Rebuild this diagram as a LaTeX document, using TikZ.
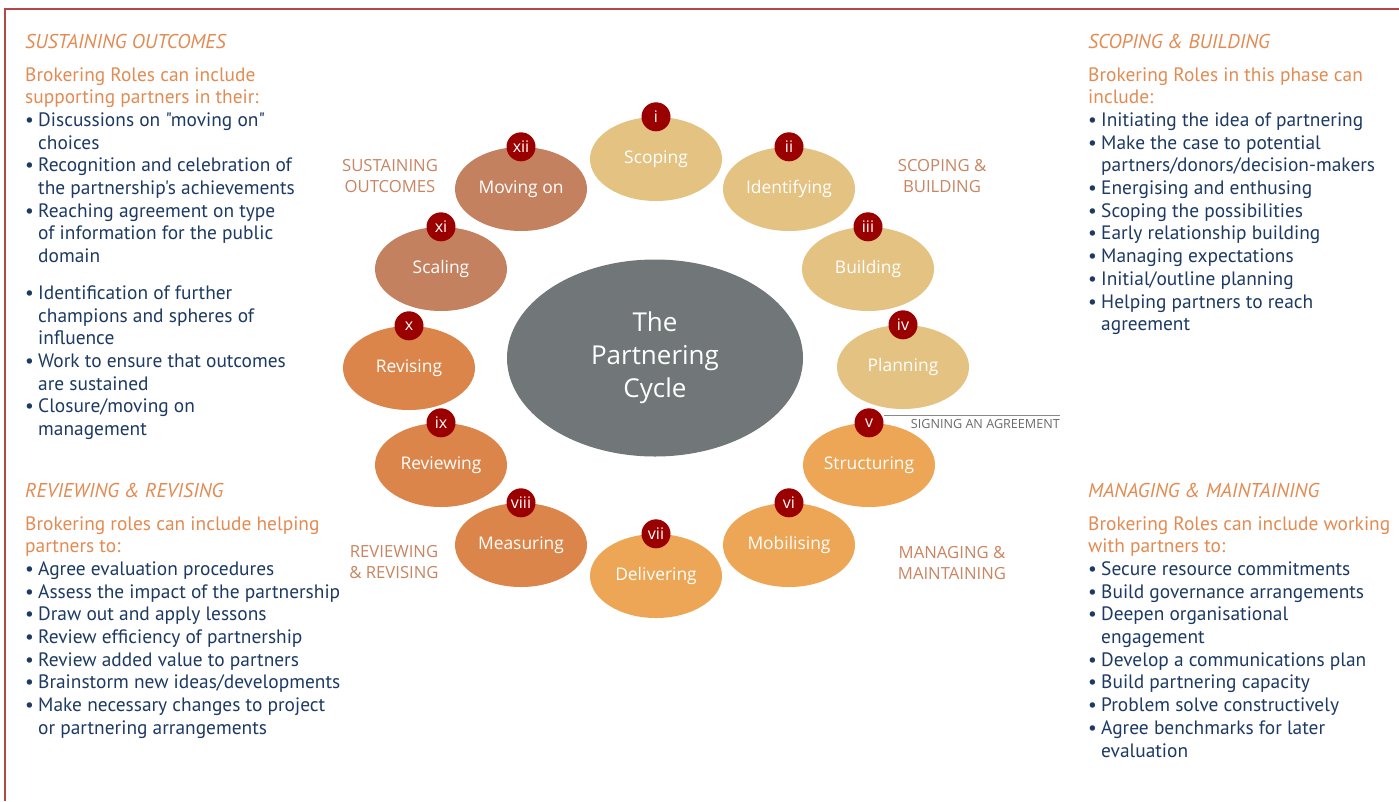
\documentclass[tikz,border=0pt]{standalone}
\usepackage{fontspec}
\setmainfont{PT Sans}[Ligatures=TeXOff]
\newfontfamily\segfont{Open Sans}
\usetikzlibrary{shapes.geometric}
\definecolor{framecol}{HTML}{B3474C}
\definecolor{tan}{HTML}{E4C281}
\definecolor{lorange}{HTML}{EDA556}
\definecolor{morange}{HTML}{DC854A}
\definecolor{brownish}{HTML}{C48160}
\definecolor{centergray}{HTML}{717679}
\definecolor{badgered}{HTML}{9A0000}
\definecolor{navy}{HTML}{1C3A63}
\definecolor{headorange}{HTML}{E38B52}
\definecolor{phasecol}{HTML}{C98562}
\definecolor{signgray}{HTML}{6B6B6B}
\newcommand{\bl}{\makebox[13pt][l]{\textbullet}}
\newcommand{\ind}{\hspace*{13pt}}
\tikzset{
  stage/.style={ellipse, minimum width=132pt, minimum height=84pt, inner sep=0pt,
     text=white, font=\segfont\fontsize{17.4}{20}\selectfont},
  badge/.style={circle, fill=badgered, minimum size=29pt, inner sep=0pt,
     text=white, font=\segfont\fontsize{16}{18}\selectfont},
  phase/.style={align=center, text=phasecol, inner sep=0pt,
     font=\segfont\fontsize{16.7}{21}\selectfont},
  panelhead/.style={anchor=base west, inner sep=0pt, text=headorange,
     font=\itshape\fontsize{20}{22.7}\selectfont},
  panelbody/.style={anchor=base west, inner sep=0pt, align=left, text=navy,
     font=\fontsize{19.4}{22.7}\selectfont},
}
\begin{document}
\begin{tikzpicture}[x=1pt,y=-1pt]
\useasboundingbox (0,0) rectangle (1399,801);
\fill[white] (0,0) rectangle (1399,801);
\coordinate (fbl) at (5,801);
\coordinate (ftl) at (5,9);
\coordinate (ftr) at (1399,9);
\draw[framecol, line width=1.3pt] (fbl) -- (ftl) -- (ftr);

% centre
\node[ellipse, fill=centergray, minimum width=296pt, minimum height=197pt, inner sep=0pt,
  text=white, align=center, font=\segfont\fontsize{26}{33}\selectfont] (cycle) at (655,358)
  {The\\Partnering\\Cycle};

% stages
\node[stage, fill=tan] (s1) at (656,159) {Scoping};
\node[stage, fill=tan] (s2) at (789,189) {Identifying};
\node[stage, fill=tan] (s3) at (868,269) {Building};
\node[stage, fill=tan] (s4) at (903,367) {Planning};
\node[stage, fill=lorange] (s5) at (869,465) {Structuring};
\node[stage, fill=lorange] (s6) at (789,545) {Mobilising};
\node[stage, fill=lorange] (s7) at (656,576) {Delivering};
\node[stage, fill=morange] (s8) at (521,545) {Measuring};
\node[stage, fill=morange] (s9) at (441,465) {Reviewing};
\node[stage, fill=morange] (s10) at (409,368) {Revising};
\node[stage, fill=brownish] (s11) at (441,269) {Scaling};
\node[stage, fill=brownish] (s12) at (521,189) {Moving on};

\node[badge] (b1) at (s1.north) {i};
\node[badge] (b2) at (s2.north) {ii};
\node[badge] (b3) at (s3.north) {iii};
\node[badge] (b4) at (s4.north) {iv};
\node[badge] (b5) at (s5.north) {v};
\node[badge] (b6) at (s6.north) {vi};
\node[badge] (b7) at (s7.north) {vii};
\node[badge] (b8) at (s8.north) {viii};
\node[badge] (b9) at (s9.north) {ix};
\node[badge] (b10) at (s10.north) {x};
\node[badge] (b11) at (s11.north) {xi};
\node[badge] (b12) at (s12.north) {xii};

% phase labels
\node[phase] (p1) at (390,176) {SUSTAINING\\OUTCOMES};
\node[phase] (p2) at (942,176) {SCOPING \&\\BUILDING};
\node[phase] (p3) at (394,562) {REVIEWING\\\& REVISING};
\node[phase] (p4) at (952,563) {MANAGING \&\\MAINTAINING};

% signing
\coordinate (sgA) at (884,415);
\coordinate (sgB) at (1060,415);
\draw[signgray!80, line width=1pt] (sgA) -- (sgB);
\node[anchor=east, inner sep=0pt, text=signgray, font=\segfont\fontsize{12.6}{14}\selectfont] (sign) at (1060,424) {SIGNING AN AGREEMENT};

% top-left panel
\node[panelhead] (h1) at (25,48) {SUSTAINING OUTCOMES};
\node[panelbody] (t1) at (25,435.5) {%
\textcolor{headorange}{Brokering Roles can include}\\
\textcolor{headorange}{supporting partners in their:}\\
\bl Discussions on "moving on"\\
\ind choices\\
\bl Recognition and celebration of\\
\ind the partnership's achievements\\
\bl Reaching agreement on type\\
\ind of information for the public\\
\ind domain\\[14pt]
\bl Identification of further\\
\ind champions and spheres of\\
\ind influence\\
\bl Work to ensure that outcomes\\
\ind are sustained\\
\bl Closure/moving on\\
\ind management};

% bottom-left panel
\node[panelhead] (h2) at (25,497) {REVIEWING \& REVISING};
\node[panelbody] (t2) at (25,734.3) {%
\textcolor{headorange}{Brokering roles can include helping}\\
\textcolor{headorange}{partners to:}\\
\bl Agree evaluation procedures\\
\bl Assess the impact of the partnership\\
\bl Draw out and apply lessons\\
\bl Review efficiency of partnership\\
\bl Review added value to partners\\
\bl Brainstorm new ideas/developments\\
\bl Make necessary changes to project\\
\ind or partnering arrangements};

% top-right panel
\node[panelhead] (h3) at (1088,48) {SCOPING \& BUILDING};
\node[panelbody] (t3) at (1088,330.7) {%
\textcolor{headorange}{Brokering Roles in this phase can}\\
\textcolor{headorange}{include:}\\
\bl Initiating the idea of partnering\\
\bl Make the case to potential\\
\ind partners/donors/decision-makers\\
\bl Energising and enthusing\\
\bl Scoping the possibilities\\
\bl Early relationship building\\
\bl Managing expectations\\
\bl Initial/outline planning\\
\bl Helping partners to reach\\
\ind agreement};

% bottom-right panel
\node[panelhead] (h4) at (1088,497) {MANAGING \& MAINTAINING};
\node[panelbody] (t4) at (1088,757) {%
\textcolor{headorange}{Brokering Roles can include working}\\
\textcolor{headorange}{with partners to:}\\
\bl Secure resource commitments\\
\bl Build governance arrangements\\
\bl Deepen organisational\\
\ind engagement\\
\bl Develop a communications plan\\
\bl Build partnering capacity\\
\bl Problem solve constructively\\
\bl Agree benchmarks for later\\
\ind evaluation};
\end{tikzpicture}
\end{document}
